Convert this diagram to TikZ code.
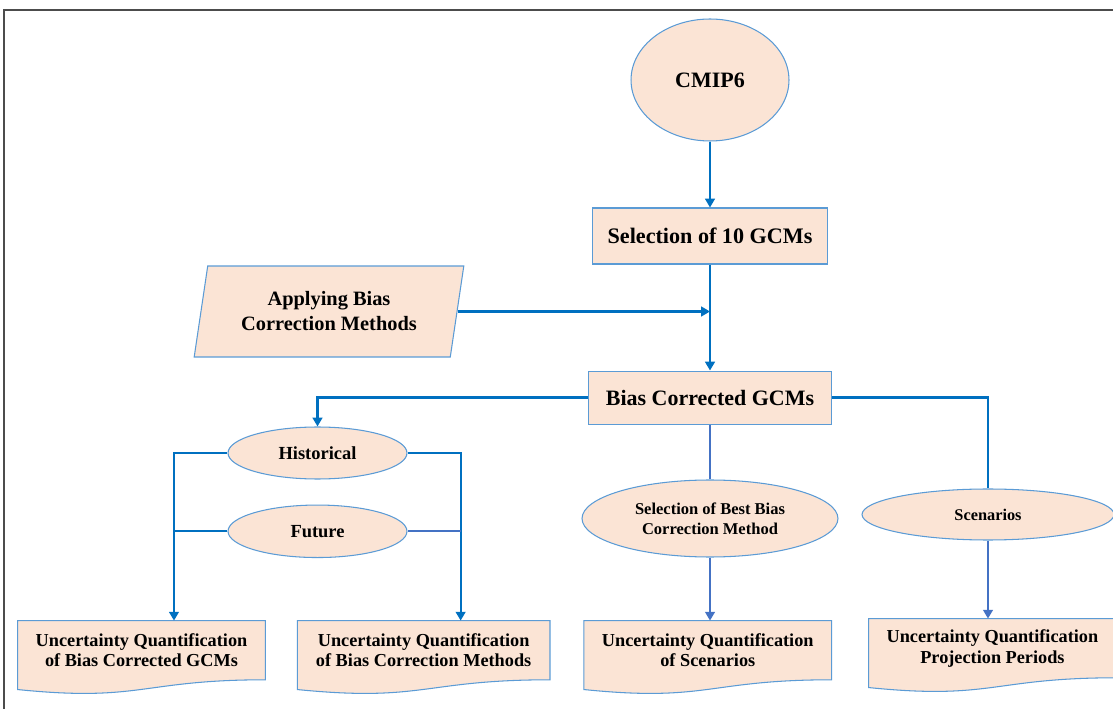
\documentclass[tikz,border=0pt]{standalone}
\usepackage{fontspec}
\setmainfont{Liberation Serif}
\usetikzlibrary{shapes.geometric, positioning, arrows.meta, backgrounds}

\definecolor{peach}{HTML}{FBE4D5}
\definecolor{edgeblue}{HTML}{5B9BD5}
\definecolor{linkblue}{HTML}{0070C0}
\definecolor{linkviolet}{HTML}{4472C4}

\begin{document}
\begin{tikzpicture}[x=0.02cm, y=-0.02cm, font=\bfseries,
    oval/.style={draw=edgeblue, fill=peach, ellipse, inner sep=0pt, line width=0.6pt, align=center},
    block/.style={draw=edgeblue, fill=peach, rectangle, inner sep=0pt, line width=0.6pt, align=center},
    slant/.style={draw=edgeblue, fill=peach, trapezium, trapezium left angle=76, trapezium right angle=104, trapezium stretches=true, inner sep=0pt, line width=0.6pt, align=center},
    docu/.style={minimum width=4.94cm, minimum height=1.17cm, inner sep=0pt, align=center, font=\bfseries\fontsize{10.4}{11.9}\selectfont},
    link/.style={draw=linkblue, line width=1.2pt},
    tip/.style={-{Triangle[length=5pt,width=5.5pt]}}]

    \useasboundingbox (0,0) rectangle (1113,709);
    \draw[black!70, line width=0.9pt] (4,10) rectangle (1130,730); % outer frame

    % Define the nodes
    \node[oval, minimum width=3.16cm, minimum height=2.44cm, font=\bfseries\fontsize{12.5}{15}\selectfont] (cmip) at (710,80) {CMIP6};
    \node[block, below=1.32cm of cmip, minimum width=4.7cm, minimum height=1.12cm, font=\bfseries\fontsize{12.6}{15}\selectfont] (sel) {Selection of 10 GCMs};
    \node[slant, minimum width=5.4cm, minimum height=1.82cm, font=\bfseries\fontsize{11.6}{14.2}\selectfont] (apply) at (329,311.5) {Applying Bias\\Correction Methods};
    \node[block, below=2.12cm of sel, minimum width=4.86cm, minimum height=1.06cm, font=\bfseries\fontsize{12.5}{15}\selectfont] (bias) {Bias Corrected GCMs};
    \node[oval, minimum width=3.58cm, minimum height=1.04cm, font=\bfseries\fontsize{10.5}{12}\selectfont] (hist) at (317.5,453) {Historical};
    \node[oval, below=0.5cm of hist, minimum width=3.58cm, minimum height=1.05cm, font=\bfseries\fontsize{10.5}{12}\selectfont] (fut) {Future};
    \node[oval, minimum width=5.12cm, minimum height=1.54cm, font=\bfseries\fontsize{9.4}{11.3}\selectfont] (best) at (710,518.5) {Selection of Best Bias\\Correction Method};
    \node[oval, minimum width=5.04cm, minimum height=1.02cm, font=\bfseries\fontsize{9.3}{11}\selectfont] (scen) at (988,514.5) {Scenarios};
    \node[docu] (u1) at (141.5,650.2) {Uncertainty Quantification\\of Bias Corrected GCMs};
    \node[docu, right=0.64cm of u1, minimum width=5.04cm] (u2) {Uncertainty Quantification\\of Bias Correction Methods};
    \node[docu, right=0.68cm of u2] (u3) {Uncertainty Quantification\\of Scenarios};
    \node[docu, right=0.74cm of u3, yshift=0.04cm] (u4) {Uncertainty Quantification\\Projection Periods};

    % Document outlines behind the text
    \begin{scope}[on background layer]
    \foreach \u in {u1,u2,u3,u4}
        \draw[draw=edgeblue, fill=peach, line width=0.6pt] (\u.north west) -- (\u.north east) -- (\u.south east)
            .. controls (\u.south) and ([yshift=-0.448cm]\u.south) .. ([yshift=-0.195cm]\u.south west) -- cycle;
    \end{scope}

    % Joints of the two left branches
    \coordinate (l1) at ([xshift=0.65cm]u1.north);
    \coordinate (l2) at ([xshift=0.74cm]u2.north);

    % Define the connectors
    \draw[link, tip] (cmip) -- (sel);
    \draw[link, tip] (sel) -- (bias);
    \draw[link, tip] (apply.east) -- (apply.east -| sel.south);
    \draw[link, tip] (bias.west) -| (hist.north);
    \draw[link, tip] (hist.west) -| (l1);
    \draw[link] (fut.west) -- (fut.west -| l1);
    \draw[link, tip] (hist.east) -| (l2);
    \draw[link, draw=linkviolet] (fut.east) -- (fut.east -| l2);
    \draw[link, draw=linkviolet] (bias.south) -- (best.north);
    \draw[link, draw=linkviolet, tip] (best.south) -- (best.south |- u3.north);
    \draw[link] (bias.east) -| (scen.north);
    \draw[link, draw=linkviolet, tip] (scen.south) -- (scen.south |- u4.north);
\end{tikzpicture}
\end{document}
